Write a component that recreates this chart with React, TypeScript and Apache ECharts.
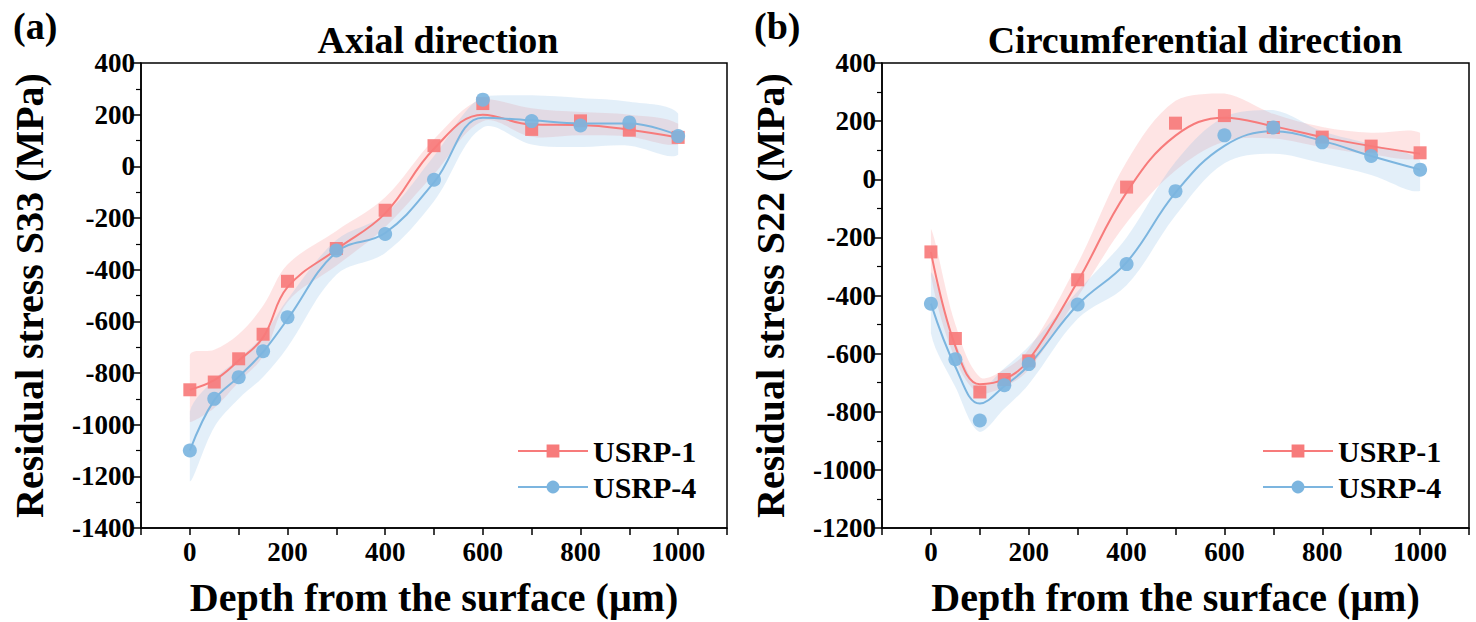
import React, { useEffect, useRef } from "react";
import * as echarts from "echarts";

// ---------- data ----------
const depth = [0, 50, 100, 150, 200, 300, 400, 500, 600, 700, 800, 900, 1000];

// (a) Axial direction, S33
const s33Usrp1 = [-865, -835, -745, -650, -445, -318, -170, 80, 243, 143, 176, 140, 112];
const s33Usrp4 = [-1100, -900, -816, -716, -584, -326, -262, -52, 258, 175, 158, 170, 117];
const s33Usrp1Fit = [-865, -828, -752, -662, -468, -322, -182, 68, 200, 162, 160, 142, 112];
const s33Usrp4Fit = [-1100, -905, -815, -718, -592, -332, -258, -62, 188, 178, 166, 166, 120];
const s33Usrp1Upper = [-730, -710, -650, -540, -380, -250, -120, 105, 262, 225, 210, 200, 165];
const s33Usrp1Lower = [-990, -935, -835, -735, -525, -385, -235, -30, 175, 115, 120, 115, 85];
const s33Usrp4Upper = [-950, -825, -745, -655, -515, -285, -185, 40, 272, 275, 265, 250, 205];
const s33Usrp4Lower = [-1220, -1010, -900, -815, -700, -420, -335, -135, 150, 85, 75, 80, 45];

// (b) Circumferential direction, S22
const s22Usrp1 = [-250, -548, -732, -689, -625, -346, -27, 193, 219, 178, 145, 114, 91];
const s22Usrp4 = [-428, -619, -830, -709, -636, -431, -292, -41, 151, 178, 127, 80, 33];
const s22Usrp1Fit = [-250, -575, -705, -688, -622, -352, -45, 150, 212, 182, 145, 114, 88];
const s22Usrp4Fit = [-428, -645, -772, -712, -640, -432, -286, -46, 115, 165, 132, 80, 33];
const s22Usrp1Upper = [-170, -500, -680, -655, -585, -290, 60, 270, 295, 225, 180, 160, 160];
const s22Usrp1Lower = [-330, -620, -740, -715, -655, -405, -150, 30, 130, 140, 110, 85, 75];
const s22Usrp4Upper = [-320, -560, -715, -650, -575, -385, -200, 60, 215, 238, 165, 120, 65];
const s22Usrp4Lower = [-530, -715, -870, -790, -705, -480, -365, -125, 55, 88, 55, 15, -40];

const seriesNames = ["USRP-1", "USRP-4"];
const xTicks = [0, 200, 400, 600, 800, 1000];

// ---------- styles ----------
const RED = "#f77b7b";
const BLUE = "#7cb5df";
const RED_BAND = "rgba(250,150,150,0.26)";
const BLUE_BAND = "rgba(140,190,232,0.24)";
const FONT = "'Liberation Serif', 'Times New Roman', serif";

const pairs = (ys: number[]) => depth.map((d, i) => [d, ys[i]]);

function bandSeries(id: string, upper: number[], lower: number[], color: string, axis: number) {
  return {
    type: "custom",
    name: id + "-band",
    coordinateSystem: "cartesian2d",
    xAxisIndex: axis,
    yAxisIndex: axis,
    silent: true,
    z: 1,
    encode: { x: 0, y: [1, 2] },
    data: depth.map((d, i) => [d, upper[i], lower[i]]),
    renderItem: (params: any, api: any) => {
      if (params.dataIndex !== 0) return { type: "group", children: [] };
      const top = depth.map((d, i) => api.coord([d, upper[i]]));
      const bottom = depth.map((d, i) => api.coord([d, lower[i]])).reverse();
      const pts = top.concat(bottom);
      const xs = pts.map((p: number[]) => p[0]);
      const ys = pts.map((p: number[]) => p[1]);
      const constraint = [
        [Math.min(...xs), Math.min(...ys)],
        [Math.max(...xs), Math.max(...ys)],
      ];
      return {
        type: "polygon",
        shape: { points: pts, smooth: 0.35, smoothConstraint: constraint },
        style: { fill: color, stroke: "none" },
      };
    },
  };
}

function fitSeries(name: string, ys: number[], color: string, symbol: string, axis: number) {
  return {
    type: "line",
    name,
    xAxisIndex: axis,
    yAxisIndex: axis,
    smooth: 0.4,
    symbol,
    showSymbol: false,
    symbolSize: 13,
    itemStyle: { color },
    lineStyle: { color, width: 2 },
    data: pairs(ys),
    z: 3,
  };
}

function pointSeries(name: string, ys: number[], color: string, symbol: string, axis: number) {
  return {
    type: "scatter",
    name: name + " data",
    xAxisIndex: axis,
    yAxisIndex: axis,
    symbol,
    symbolSize: symbol === "rect" ? 13 : 14,
    itemStyle: { color, opacity: 0.92 },
    data: pairs(ys),
    z: 4,
  };
}

function xAxis(grid: number) {
  return {
    type: "value",
    gridIndex: grid,
    min: -100,
    max: 1100,
    interval: 100,
    name: "Depth from the surface (μm)",
    nameLocation: "middle",
    nameGap: 49,
    nameTextStyle: { fontFamily: FONT, fontWeight: "bold", fontSize: 40, color: "#000" },
    axisLine: { show: true, onZero: false, lineStyle: { color: "#000", width: 1.5 } },
    axisTick: { show: true, inside: false, length: 7, lineStyle: { color: "#000", width: 1.5 } },
    splitLine: { show: false },
    axisLabel: {
      fontFamily: FONT,
      fontWeight: "bold",
      fontSize: 27,
      color: "#000",
      margin: 10,
      formatter: (v: number) => (xTicks.includes(v) ? String(v) : ""),
    },
  };
}

function yAxis(grid: number, min: number, label: string) {
  return {
    type: "value",
    gridIndex: grid,
    min,
    max: 400,
    interval: 200,
    name: label,
    nameLocation: "middle",
    nameGap: 92,
    nameTextStyle: { fontFamily: FONT, fontWeight: "bold", fontSize: 40, color: "#000" },
    axisLine: { show: true, onZero: false, lineStyle: { color: "#000", width: 1.5 } },
    axisTick: { show: true, inside: false, length: 8, lineStyle: { color: "#000", width: 1.5 } },
    minorTick: { show: true, splitNumber: 2, length: 5, lineStyle: { color: "#000", width: 1.2 } },
    splitLine: { show: false },
    axisLabel: {
      fontFamily: FONT,
      fontWeight: "bold",
      fontSize: 27,
      color: "#000",
      margin: 6,
      formatter: (v: number) => String(v),
    },
  };
}

function legend(left: number) {
  return {
    data: seriesNames,
    orient: "vertical",
    left,
    top: 431,
    itemWidth: 70,
    itemHeight: 16,
    itemGap: 6,
    textStyle: { fontFamily: FONT, fontWeight: "bold", fontSize: 30, color: "#000" },
  };
}

export default function App() {
  const ref = useRef<HTMLDivElement>(null);
  useEffect(() => {
    if (!ref.current) return;
    const chart = echarts.init(ref.current, null, { renderer: "svg" });
    const titleStyle = { fontFamily: FONT, fontWeight: "bold", fontSize: 38, color: "#000" };
    chart.setOption({
      animation: false,
      backgroundColor: "#fff",
      title: [
        { text: "(a)", left: 8, top: 2, textStyle: titleStyle },
        { text: "Axial direction", left: 433, top: 16, textAlign: "center", textStyle: titleStyle },
        { text: "(b)", left: 749, top: 2, textStyle: titleStyle },
        { text: "Circumferential direction", left: 1190, top: 16, textAlign: "center", textStyle: titleStyle },
      ],
      grid: [
        { left: 141, top: 63, width: 586, height: 474, show: true, borderColor: "#000", borderWidth: 1.5, backgroundColor: "transparent" },
        { left: 882, top: 63, width: 587, height: 474, show: true, borderColor: "#000", borderWidth: 1.5, backgroundColor: "transparent" },
      ],
      legend: [legend(512), legend(1257)],
      xAxis: [xAxis(0), xAxis(1)],
      yAxis: [yAxis(0, -1400, "Residual stress S33 (MPa)"), yAxis(1, -1200, "Residual stress S22 (MPa)")],
      series: [
        bandSeries("a1", s33Usrp1Upper, s33Usrp1Lower, RED_BAND, 0),
        bandSeries("a4", s33Usrp4Upper, s33Usrp4Lower, BLUE_BAND, 0),
        fitSeries(seriesNames[0], s33Usrp1Fit, RED, "rect", 0),
        fitSeries(seriesNames[1], s33Usrp4Fit, BLUE, "circle", 0),
        pointSeries(seriesNames[0], s33Usrp1, RED, "rect", 0),
        pointSeries(seriesNames[1], s33Usrp4, BLUE, "circle", 0),
        bandSeries("b1", s22Usrp1Upper, s22Usrp1Lower, RED_BAND, 1),
        bandSeries("b4", s22Usrp4Upper, s22Usrp4Lower, BLUE_BAND, 1),
        fitSeries(seriesNames[0], s22Usrp1Fit, RED, "rect", 1),
        fitSeries(seriesNames[1], s22Usrp4Fit, BLUE, "circle", 1),
        pointSeries(seriesNames[0], s22Usrp1, RED, "rect", 1),
        pointSeries(seriesNames[1], s22Usrp4, BLUE, "circle", 1),
      ],
    });
    return () => chart.dispose();
  }, []);
  return (
    <div
      ref={ref}
      style={{ position: "fixed", left: 0, top: 0, width: 1476, height: 622, background: "#fff" }}
    />
  );
}
